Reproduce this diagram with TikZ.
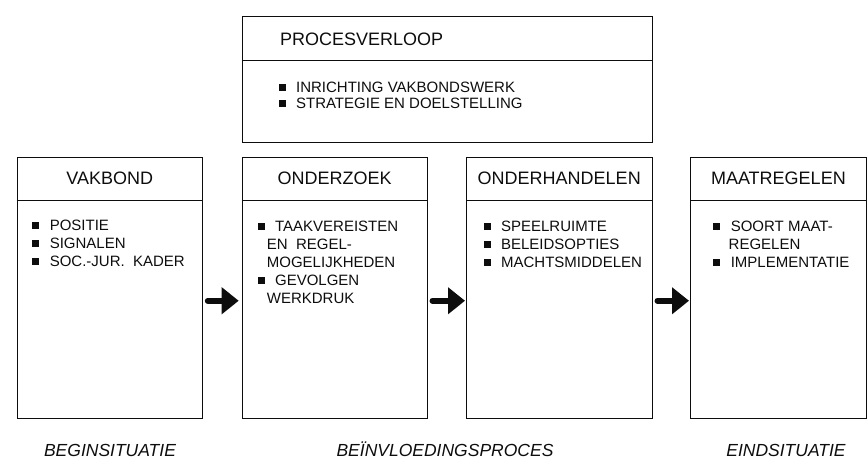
\documentclass[tikz,border=0pt]{standalone}
\usepackage{fontspec}
\setmainfont{Liberation Sans}
\usetikzlibrary{arrows.meta,calc}
\definecolor{ink}{HTML}{0D0D0D}
\tikzset{panel/.style={draw=ink,line width=0.8pt,inner sep=0pt,anchor=north west},
  title/.style={font=\fontsize{18}{20}\selectfont,inner sep=0pt,text=ink},
  list/.style={font=\fontsize{15}{18}\selectfont,align=left,inner sep=0pt,anchor=north west,text=ink},
  phase/.style={font=\fontsize{17.5}{20}\selectfont\itshape,inner sep=0pt,anchor=base,text=ink},
  flow/.style={-{Triangle[length=17pt,width=26pt]},line width=6pt,line cap=round,draw=ink}}
\newcommand{\blt}{\rule[1.6pt]{7pt}{7pt}\hspace{10.6pt}}

\begin{document}
\begin{tikzpicture}[x=1pt,y=-1pt]
\useasboundingbox (0,0) rectangle (867,459);
% panels
\node[panel,minimum width=410pt,minimum height=126.3pt] (proc) at (241.7,16) {};
\node[panel,minimum width=185.3pt,minimum height=261.3pt] (vak) at (16.7,156.7) {};
\node[panel,minimum width=185pt,minimum height=261.3pt] (ond) at (241.7,156.7) {};
\node[panel,minimum width=185.7pt,minimum height=261.3pt] (onh) at (466,156.7) {};
\node[panel,minimum width=176pt,minimum height=261.3pt] (maat) at (690,156.7) {};
\foreach \p in {proc,vak,ond,onh,maat}
  \draw[draw=ink,line width=0.8pt] ($(\p.north west)+(0,44)$) -- ($(\p.north east)+(0,44)$);
% titles
\node[title,anchor=west] at ($(proc.north west)+(38.3,23.5)$) {PROCESVERLOOP};
\node[title] at ($(vak.north)+(0,22)$) {VAKBOND};
\node[title] at ($(ond.north)+(0,22)$) {ONDERZOEK};
\node[title] at ($(onh.north)+(0,22)$) {ONDERHANDELEN};
\node[title] at ($(maat.north)+(0,22)$) {MAATREGELEN};
% lists
\node[list,font=\fontsize{15}{16.5}\selectfont] at ($(proc.north west)+(36.6,65.7)$)
  {\blt INRICHTING VAKBONDSWERK\\\blt STRATEGIE EN DOELSTELLING};
\node[list] at ($(vak.north west)+(15.3,63.3)$)
  {\blt POSITIE\\\blt SIGNALEN\\\blt SOC.-JUR.\ \ KADER};
\node[list] at ($(ond.north west)+(15.6,64.3)$)
  {\blt TAAKVEREISTEN\\\hspace*{9.4pt}EN\ \ REGEL-\\\hspace*{9.4pt}MOGELIJKHEDEN\\\blt GEVOLGEN\\\hspace*{9.4pt}WERKDRUK};
\node[list] at ($(onh.north west)+(17.3,64.3)$)
  {\blt SPEELRUIMTE\\\blt BELEIDSOPTIES\\\blt MACHTSMIDDELEN};
\node[list] at ($(maat.north west)+(23,64.3)$)
  {\blt SOORT MAAT-\\\hspace*{15.5pt}REGELEN\\\blt IMPLEMENTATIE};
% flow arrows
\draw[flow] ($(vak.east)+(5,13)$) -- ($(ond.west)+(-3,13)$);
\draw[flow] ($(ond.east)+(5,13)$) -- ($(onh.west)+(-1,13)$);
\draw[flow] ($(onh.east)+(5,13)$) -- ($(maat.west)+(-1,13)$);
% phases
\node[phase] (begin) at (110,456.5) {BEGINSITUATIE};
\node[phase] (proces) at (445,456.5) {BEÏNVLOEDINGSPROCES};
\node[phase] (eind) at (786,456.5) {EINDSITUATIE};
\end{tikzpicture}
\end{document}
